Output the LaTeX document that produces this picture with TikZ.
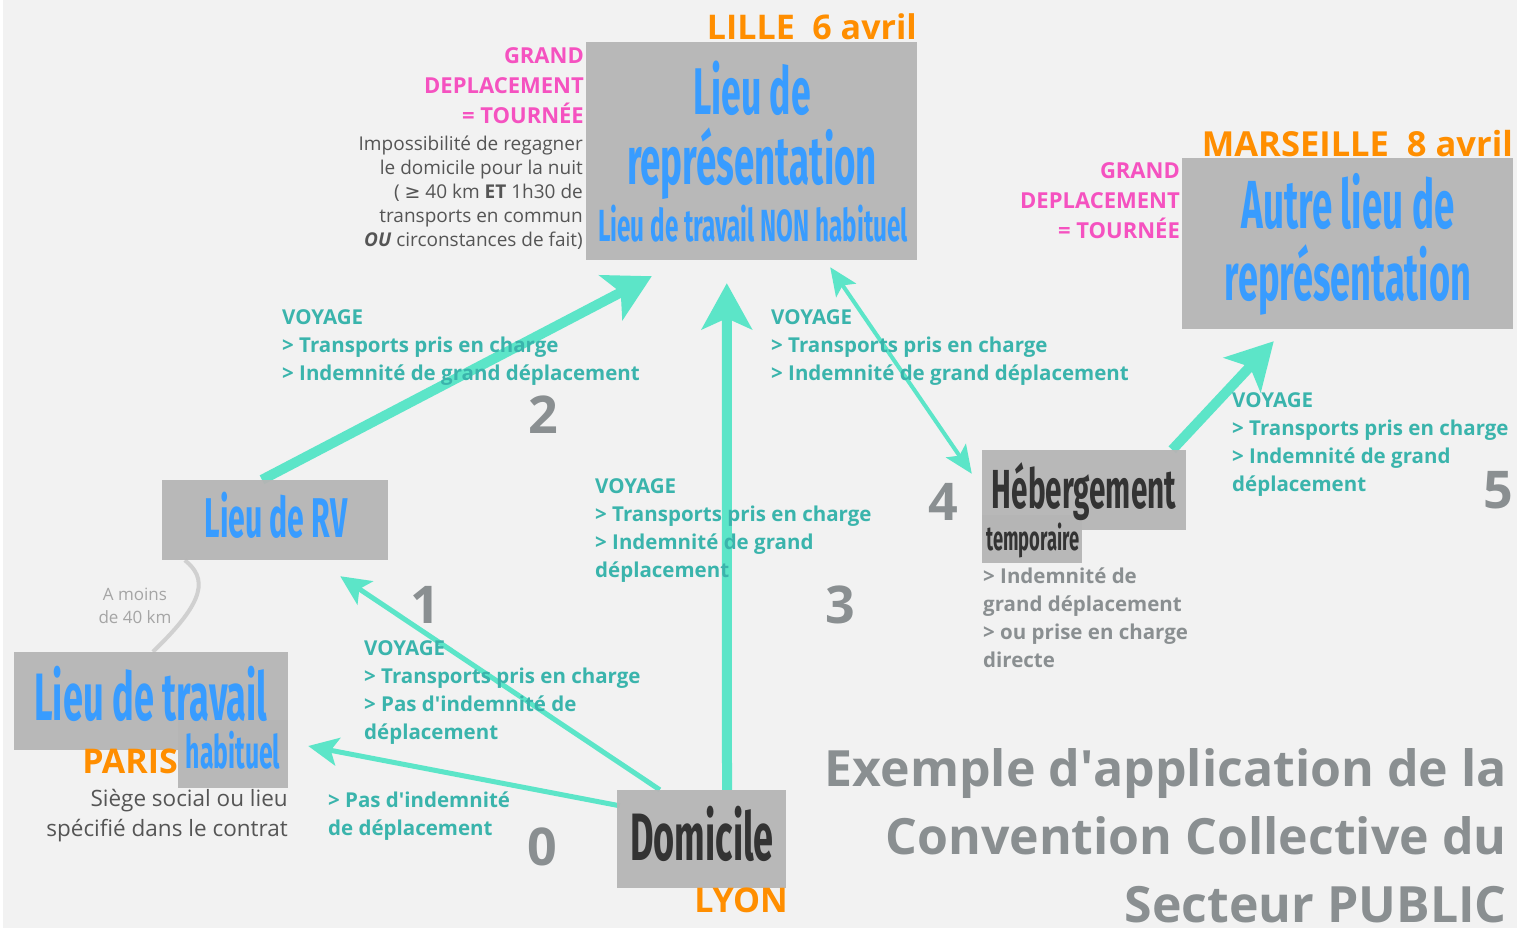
\documentclass[tikz,border=0pt]{standalone}
\usepackage{fontspec}
\setmainfont{Open Sans}
\newfontfamily\condfont[FakeStretch=0.54]{Fira Sans}
\newfontfamily\symfont{DejaVu Sans}
\usetikzlibrary{arrows.meta,positioning,calc}
\tikzset{>=Stealth}
\definecolor{fondcolor}{RGB}{242,242,242}
\definecolor{boitecolor}{RGB}{181,181,181}
\definecolor{bleucolor}{RGB}{56,156,255}
\definecolor{sombrecolor}{RGB}{51,51,51}
\definecolor{flechecolor}{RGB}{92,229,200}
\definecolor{voyagecolor}{RGB}{58,180,172}
\definecolor{numcolor}{RGB}{138,143,145}
\definecolor{villecolor}{RGB}{255,142,0}
\definecolor{grandcolor}{RGB}{245,82,192}
\definecolor{textecolor}{RGB}{85,85,85}
\definecolor{liencolor}{RGB}{208,208,208}
\definecolor{moinscolor}{RGB}{165,165,165}

\newcommand{\fs}[2]{\fontsize{#1}{#2}\selectfont}

\pgfdeclarelayer{fond}
\pgfdeclarelayer{fleches}
\pgfsetlayers{fond,fleches,main}

\tikzset{
  boite/.style={fill=boitecolor, fill opacity=0.95, inner sep=0pt},
  titre/.style={text=bleucolor, inner sep=0pt, anchor=base, font=\condfont\bfseries\fs{#1}{#1}},
  sombre/.style={text=sombrecolor},
  ville/.style={text=villecolor, inner sep=0pt, anchor=base east, font=\bfseries\fs{#1}{#1}},
  grand/.style={text=grandcolor, inner sep=0pt, anchor=base east, align=right, font=\bfseries\fs{22}{30}},
  voyage/.style={text=voyagecolor, inner sep=0pt, anchor=base west, align=left, font=\bfseries\fs{20.5}{28}},
  num/.style={text=numcolor, inner sep=0pt, anchor=base, font=\bfseries\fs{52}{52}},
  fleche/.style={draw=flechecolor, line width=5pt, -{Stealth[length=30pt,width=28pt,inset=7pt]}},
  grossefleche/.style={draw=flechecolor, line width=10pt, -{Stealth[length=46pt,width=50pt,inset=11pt]}},
  doublefleche/.style={draw=flechecolor, line width=4pt,
    {Stealth[length=28pt,width=24pt,inset=6pt]}-{Stealth[length=28pt,width=24pt,inset=6pt]}},
  lien/.style={draw=liencolor, line width=4pt}
}

\begin{document}
\begin{tikzpicture}[x=1pt, y=-1pt]
\useasboundingbox (0,0) rectangle (1517,928);
\begin{pgfonlayer}{fond}
  \fill[white] (0,0) rectangle (1517,928);
  \fill[fondcolor] (3,0) rectangle (1517,928);
\end{pgfonlayer}

% Boites des lieux
\node[boite, minimum width=331pt, minimum height=218pt] (lieurep) at (751.5,151) {};
\node[boite, minimum width=331pt, minimum height=171pt] (autre) at (1347.5,243.5) {};
\node[boite, minimum width=226pt, minimum height=80pt] (rv) at (275,520) {};
\node[boite, minimum width=274pt, minimum height=98pt] (trav) at (151,701) {};
\node[boite, minimum width=110pt, minimum height=68pt] (habit) at (233,754) {};
\node[boite, minimum width=169pt, minimum height=98pt] (dom) at (701.5,839) {};
\node[boite, minimum width=204pt, minimum height=80pt] (heb) at (1084,490) {};
\node[boite, minimum width=100pt, minimum height=48pt] (temp) at (1032,539) {};

% Titres des boites
\node[titre=66] (lieurepA) at (752,115) {Lieu de};
\node[titre=68] (lieurepB) at (752,185) {représentation};
\node[titre=45] (lieurepC) at (753,241) {Lieu de travail NON habituel};
\node[titre=68] (autreA) at (1348,228) {Autre lieu de};
\node[titre=67] (autreB) at (1348,300) {représentation};
\node[titre=56] (rvT) at (276,537) {Lieu de RV};
\node[titre=67] (travT) at (151,720) {Lieu de travail};
\node[titre=46] (habitT) at (233,768) {habituel};
\node[titre=67, sombre] (domT) at (702,860) {Domicile};
\node[titre=55, sombre] (hebT) at (1084,508) {Hébergement};
\node[titre=34, sombre] (tempT) at (1033,550) {temporaire};

% Villes et dates
\node[ville=34] (lille) at (917,40) {LILLE\ \ 6 avril};
\node[ville=34.5] (marseille) at (1513,157) {MARSEILLE\ \ 8 avril};
\node[ville=34] (paris) at (178,773) {PARIS};
\node[ville=34] (lyon) at (788,912) {LYON};

% Grand deplacement
\node[grand] (grandA) at (584,124) {GRAND\\DEPLACEMENT\\= TOURNÉE};
\node[grand] (grandB) at (1180,238) {GRAND\\DEPLACEMENT\\= TOURNÉE};
\node[text=textecolor, inner sep=0pt, anchor=base east, align=right, font=\fs{19}{24}] (impossible) at (583,246)
  {Impossibilité de regagner\\le domicile pour la nuit\\( {\symfont ≥} 40 km \textbf{ET} 1h30 de\\transports en commun\\\textbf{\textit{OU}} circonstances de fait)};
\node[text=textecolor, inner sep=0pt, anchor=base east, align=right, font=\fs{22.5}{30}] (siege) at (288,836)
  {Siège social ou lieu\\spécifié dans le contrat};
\node[text=moinscolor, inner sep=0pt, anchor=base, align=center, font=\fs{17}{23}] (moins) at (135,623)
  {A moins\\de 40 km};

% Voyages
\node[voyage] (voy2) at (282,380) {VOYAGE\\> Transports pris en charge\\> Indemnité de grand déplacement};
\node[voyage] (voy4) at (771,380) {VOYAGE\\> Transports pris en charge\\> Indemnité de grand déplacement};
\node[voyage] (voy3) at (595,577) {VOYAGE\\> Transports pris en charge\\> Indemnité de grand\\déplacement};
\node[voyage] (voy1) at (364,739) {VOYAGE\\> Transports pris en charge\\> Pas d\textquotesingle indemnité de\\déplacement};
\node[voyage] (voy0) at (328,835) {> Pas d\textquotesingle indemnité\\de déplacement};
\node[voyage] (voy5) at (1232,491) {VOYAGE\\> Transports pris en charge\\> Indemnité de grand\\déplacement};
\node[voyage, text=numcolor] (hebtxt) at (983,667) {> Indemnité de\\grand déplacement\\> ou prise en charge\\directe};

% Etapes
\node[num] (n0) at (542,865) {0};
\node[num] (n1) at (425,623) {1};
\node[num] (n2) at (543,433) {2};
\node[num] (n3) at (840,623) {3};
\node[num] (n4) at (943,520) {4};
\node[num] (n5) at (1498,508) {5};

% Titre
\node[text=numcolor, inner sep=0pt, anchor=base east, align=right, font=\bfseries\fs{50}{68}] (titre) at (1507,922)
  {Exemple d\textquotesingle application de la\\Convention Collective du\\Secteur PUBLIC};

% Fleches
\begin{pgfonlayer}{fleches}
  \draw[grossefleche] ([xshift=-13pt]rv.north) -- ($(lieurep.south west)+(66,16)$);
  \draw[grossefleche] ([xshift=25.5pt]dom.north) -- ($(lieurep.south west)+(141,23)$);
  \draw[doublefleche] ($(lieurep.south east)+(-87,7)$) -- ($(heb.north west)+(-10,24)$);
  \draw[grossefleche] ([xshift=-14pt]heb.north east) -- ($(autre.south west)+(92,12)$);
  \draw[fleche] ($(dom.north west)+(43,0)$) -- ($(rv.south east)+(-48,16)$);
  \draw[fleche] ($(dom.north west)+(3,16)$) -- ($(habit.east)+(20,-8)$);
  \draw[lien] ([xshift=23pt]rv.south west) .. controls (207,578) and (207,600) .. ([xshift=139pt]trav.north west);
\end{pgfonlayer}

\end{tikzpicture}
\end{document}
